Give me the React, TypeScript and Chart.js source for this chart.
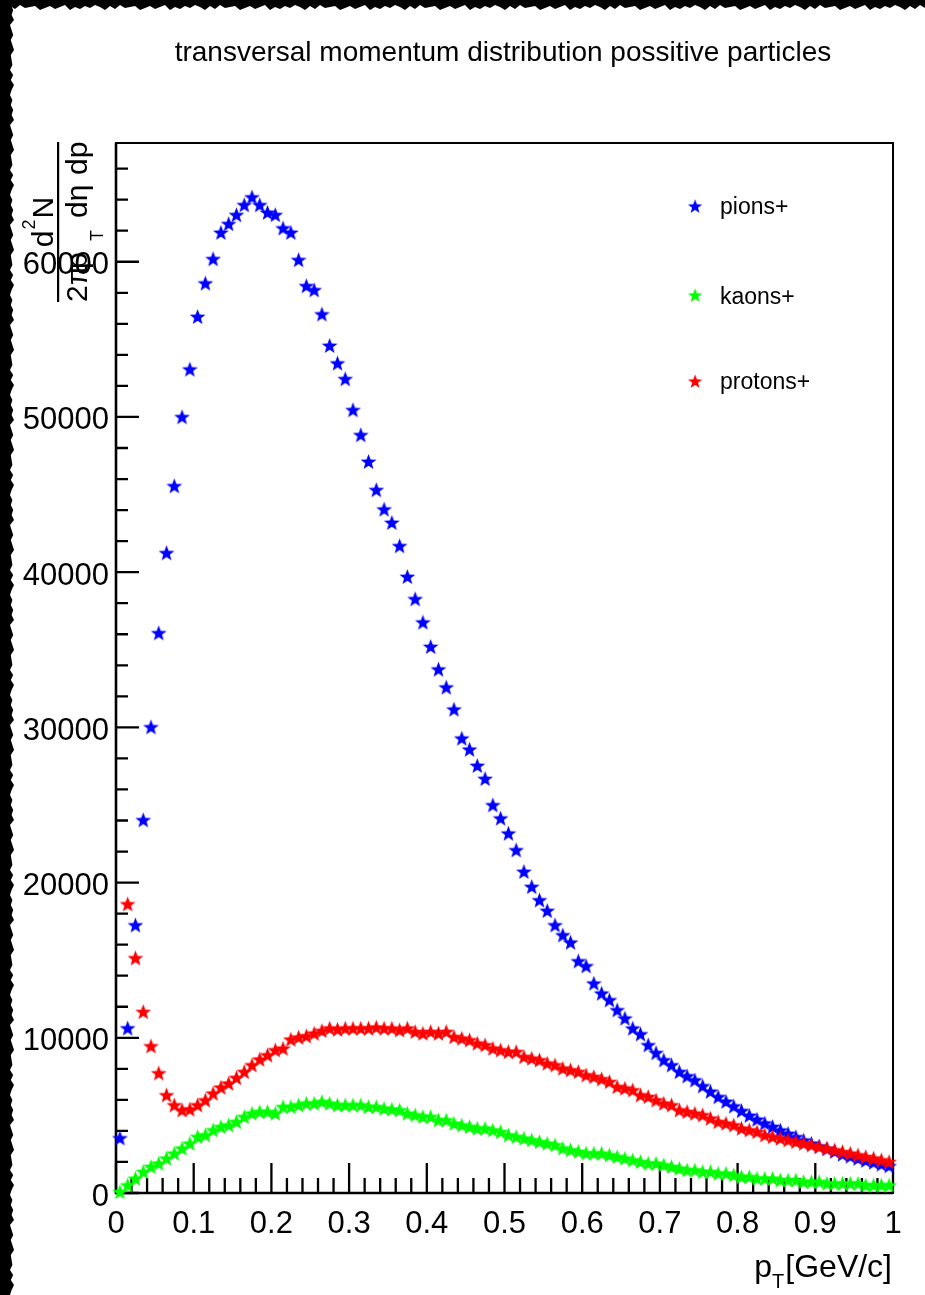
import React, { useEffect, useRef } from 'react';
import { Chart, registerables } from 'chart.js';

Chart.register(...registerables);

const FONT = '"Liberation Sans", Arial, Helvetica, sans-serif';

const TITLE = 'transversal momentum distribution possitive particles';
const SERIES_NAMES = ['pions+', 'kaons+', 'protons+'];
const SERIES_COLORS = ['#0000ff', '#00ff00', '#ff0000'];

const X_TICKS = [0, 0.1, 0.2, 0.3, 0.4, 0.5, 0.6, 0.7, 0.8, 0.9, 1];
const Y_TICKS = [0, 10000, 20000, 30000, 40000, 50000, 60000];

// bin centres of p_T [GeV/c]
const PT = [
  0.005, 0.015, 0.025, 0.035, 0.045, 0.055, 0.065, 0.075, 0.085, 0.095,
  0.105, 0.115, 0.125, 0.135, 0.145, 0.155, 0.165, 0.175, 0.185, 0.195,
  0.205, 0.215, 0.225, 0.235, 0.245, 0.255, 0.265, 0.275, 0.285, 0.295,
  0.305, 0.315, 0.325, 0.335, 0.345, 0.355, 0.365, 0.375, 0.385, 0.395,
  0.405, 0.415, 0.425, 0.435, 0.445, 0.455, 0.465, 0.475, 0.485, 0.495,
  0.505, 0.515, 0.525, 0.535, 0.545, 0.555, 0.565, 0.575, 0.585, 0.595,
  0.605, 0.615, 0.625, 0.635, 0.645, 0.655, 0.665, 0.675, 0.685, 0.695,
  0.705, 0.715, 0.725, 0.735, 0.745, 0.755, 0.765, 0.775, 0.785, 0.795,
  0.805, 0.815, 0.825, 0.835, 0.845, 0.855, 0.865, 0.875, 0.885, 0.895,
  0.905, 0.915, 0.925, 0.935, 0.945, 0.955, 0.965, 0.975, 0.985, 0.995,
];

const PIONS = [
  3545, 10630, 17270, 24040, 30030, 36090, 41250, 45560, 50010, 53080,
  56470, 58625, 60190, 61890, 62450, 63030, 63670, 64170, 63670, 63180,
  63030, 62170, 61890, 60130, 58450, 58190, 56630, 54605, 53470, 52460,
  50460, 48850, 47130, 45310, 44060, 43200, 41700, 39720, 38280, 36780,
  35210, 33750, 32590, 31170, 29300, 28590, 27540, 26700, 25005, 24150,
  23180, 22105, 20710, 19740, 18880, 18195, 17270, 16625, 16155, 14950,
  14630, 13515, 12870, 12440, 11795, 11260, 10615, 10245, 9540, 9040,
  8570, 8250, 7820, 7540, 7280, 6900, 6550, 6200, 5900, 5600,
  5300, 5000, 4750, 4500, 4280, 4050, 3830, 3620, 3400, 3200,
  3020, 2850, 2680, 2500, 2370, 2230, 2100, 1980, 1860, 1750,
];

const KAONS = [
  85, 515, 945, 1375, 1700, 1915, 2235, 2560, 2880, 3200,
  3630, 3740, 4060, 4275, 4380, 4595, 4920, 5135, 5240, 5240,
  5135, 5560, 5560, 5670, 5780, 5780, 5885, 5780, 5670, 5670,
  5670, 5670, 5560, 5560, 5450, 5400, 5350, 5135, 5030, 4920,
  4920, 4705, 4705, 4490, 4380, 4275, 4170, 4170, 4060, 3950,
  3740, 3630, 3530, 3420, 3310, 3200, 3100, 2890, 2780, 2680,
  2570, 2570, 2560, 2450, 2340, 2240, 2130, 2020, 1915, 1915,
  1810, 1700, 1590, 1485, 1485, 1375, 1375, 1270, 1270, 1160,
  1050, 1050, 945, 945, 945, 840, 840, 840, 730, 730,
  730, 625, 625, 625, 625, 625, 515, 515, 515, 515,
];

const PROTONS = [
  null, 18625, 15145, 11684, 9474, 7733, 6316, 5670, 5350, 5400,
  5670, 5990, 6425, 6810, 7070, 7430, 7820, 8250, 8620, 8890,
  9215, 9325, 9905, 10035, 10120, 10290, 10460, 10615, 10550, 10615,
  10615, 10615, 10615, 10680, 10615, 10615, 10505, 10615, 10400, 10290,
  10400, 10290, 10400, 10070, 9970, 9860, 9650, 9540, 9325, 9215,
  9105, 9105, 8785, 8680, 8570, 8360, 8250, 8035, 7930, 7820,
  7605, 7495, 7350, 7175, 6850, 6750, 6640, 6315, 6210, 5990,
  5780, 5670, 5350, 5240, 5135, 5030, 4815, 4595, 4490, 4380,
  4170, 4060, 3950, 3740, 3630, 3525, 3415, 3310, 3200, 3095,
  2985, 2880, 2770, 2660, 2560, 2450, 2340, 2240, 2130, 2020,
];

const JAG = [3, 0, 4, 1, 5, 2, 0, 3, 1, 4, 2, 5, 0, 2, 4, 1, 3, 5, 1, 2];

function makeStar(color: string): HTMLCanvasElement {
  const size = 19;
  const R = 8.3;
  const c = document.createElement('canvas');
  c.width = size;
  c.height = size;
  const g = c.getContext('2d')!;
  g.fillStyle = color;
  g.beginPath();
  for (let i = 0; i < 10; i++) {
    const r = i % 2 === 0 ? R : R * 0.42;
    const a = -Math.PI / 2 + (i * Math.PI) / 5;
    const px = size / 2 + r * Math.cos(a);
    const py = size / 2 + 0.7 + r * Math.sin(a);
    if (i === 0) g.moveTo(px, py);
    else g.lineTo(px, py);
  }
  g.closePath();
  g.fill();
  return c;
}

function toPoints(values: (number | null)[]) {
  const out: { x: number; y: number }[] = [];
  values.forEach((v, i) => {
    if (v !== null) out.push({ x: PT[i], y: v });
  });
  return out;
}

export default function App() {
  const ref = useRef<HTMLCanvasElement>(null);

  useEffect(() => {
    document.body.style.margin = '0';
    document.body.style.overflow = 'hidden';
    const canvas = ref.current!;
    const stars = SERIES_COLORS.map(makeStar);

    const rootPlugin = {
      id: 'rootStyle',
      beforeDraw(chart: any) {
        const ctx = chart.ctx as CanvasRenderingContext2D;
        const W = chart.width, H = chart.height;
        ctx.save();
        ctx.fillStyle = '#ffffff';
        ctx.fillRect(0, 0, W, H);
        ctx.fillStyle = '#000000';
        // top jagged band
        ctx.beginPath();
        ctx.moveTo(0, 0);
        ctx.lineTo(W, 0);
        for (let x = W, i = 0; x >= 0; x -= 5, i++) ctx.lineTo(x, 5 + JAG[i % JAG.length]);
        ctx.lineTo(0, 8);
        ctx.closePath();
        ctx.fill();
        // left jagged band
        ctx.beginPath();
        ctx.moveTo(0, 0);
        for (let y = 0, i = 0; y <= H; y += 5, i++) ctx.lineTo(10 + JAG[(i + 7) % JAG.length] * 0.8, y);
        ctx.lineTo(0, H);
        ctx.closePath();
        ctx.fill();
        ctx.restore();
      },
      beforeDatasetsDraw(chart: any) {
        const ctx = chart.ctx as CanvasRenderingContext2D;
        const { left, right, top, bottom } = chart.chartArea;
        const xs = chart.scales.x, ys = chart.scales.y;
        ctx.save();
        ctx.strokeStyle = '#000';
        ctx.lineWidth = 2;
        ctx.strokeRect(left, top, right - left, bottom - top);
        ctx.lineWidth = 2.6;
        ctx.beginPath();
        ctx.moveTo(left, top);
        ctx.lineTo(left, bottom);
        ctx.lineTo(right, bottom);
        ctx.stroke();
        ctx.lineWidth = 2.3;
        ctx.beginPath();
        for (let k = 0; k * 2000 <= ys.max; k++) {
          const py = ys.getPixelForValue(k * 2000);
          const len = k % 5 === 0 ? 23 : 12;
          ctx.moveTo(left, py);
          ctx.lineTo(left + len, py);
        }
        for (let k = 0; k <= 50; k++) {
          const px = xs.getPixelForValue(k * 0.02);
          const len = k % 5 === 0 ? 30 : 15;
          ctx.moveTo(px, bottom);
          ctx.lineTo(px, bottom - len);
        }
        ctx.stroke();
        ctx.restore();
      },
      afterDraw(chart: any) {
        const ctx = chart.ctx as CanvasRenderingContext2D;
        ctx.save();
        ctx.fillStyle = '#000';
        ctx.textBaseline = 'alphabetic';
        // title
        ctx.font = `28px ${FONT}`;
        ctx.textAlign = 'center';
        ctx.fillText(TITLE, 503, 61);
        ctx.textAlign = 'left';

        // x axis title: p_T[GeV/c]
        const bigX = `32px ${FONT}`, smallX = `20px ${FONT}`;
        ctx.font = bigX;
        const wp = ctx.measureText('p').width;
        const wr = ctx.measureText('[GeV/c]').width;
        ctx.font = smallX;
        const wt = ctx.measureText('T').width;
        const x0 = 891 - wr - wt - wp;
        ctx.font = bigX;
        ctx.fillText('p', x0, 1277);
        ctx.font = smallX;
        ctx.fillText('T', x0 + wp, 1288);
        ctx.font = bigX;
        ctx.fillText('[GeV/c]', x0 + wp + wt + 1, 1277);

        // y axis title (rotated fraction)
        ctx.save();
        ctx.translate(0, 222);
        ctx.rotate(-Math.PI / 2);
        const big = `30px ${FONT}`, sup = `18px ${FONT}`;
        ctx.font = big;
        const wd = ctx.measureText('d').width;
        const wN = ctx.measureText('N').width;
        ctx.font = sup;
        const w2 = ctx.measureText('2').width;
        let X = -(wd + w2 + wN + 2) / 2;
        ctx.font = big;
        ctx.fillText('d', X, 53);
        X += wd;
        ctx.font = sup;
        ctx.fillText('2', X + 1, 35);
        X += w2 + 2;
        ctx.font = big;
        ctx.fillText('N', X, 53);
        ctx.fillRect(-80, 57, 160, 2.2);
        ctx.font = big;
        ctx.fillText('2\u03c0', -80, 87);
        ctx.fillText('p', -47, 87);
        ctx.font = sup;
        ctx.fillText('T', -19, 103);
        ctx.font = big;
        ctx.fillText('d\u03b7', 4, 87);
        ctx.fillText('dp', 47, 87);
        ctx.restore();

        // legend
        const legY = [207, 296, 382];
        const legBase = [214, 304, 389];
        ctx.font = `23px ${FONT}`;
        SERIES_NAMES.forEach((name, i) => {
          const s = stars[i];
          ctx.drawImage(s, 696 - s.width / 2, legY[i] - s.height / 2, s.width * 0.9, s.height * 0.9);
          ctx.fillText(name, 720, legBase[i]);
        });
        ctx.restore();
      },
    };

    const tickFont = { family: FONT, size: 31 };
    const chart = new Chart(canvas, {
      type: 'scatter',
      data: {
        datasets: [
          { label: SERIES_NAMES[0], data: toPoints(PIONS), pointStyle: stars[0] as any, pointRadius: 8, order: 3, clip: false as any },
          { label: SERIES_NAMES[1], data: toPoints(KAONS), pointStyle: stars[1] as any, pointRadius: 8, order: 2, clip: false as any },
          { label: SERIES_NAMES[2], data: toPoints(PROTONS), pointStyle: stars[2] as any, pointRadius: 8, order: 1, clip: false as any },
        ],
      },
      options: {
        animation: false,
        responsive: false,
        devicePixelRatio: 1,
        events: [],
        layout: { padding: { left: 0, right: 32, top: 143, bottom: 0 } },
        plugins: {
          legend: { display: false },
          title: { display: false },
          tooltip: { enabled: false },
        },
        scales: {
          x: {
            type: 'linear',
            min: 0,
            max: 1,
            afterFit: (s: any) => { s.height = 102; },
            afterBuildTicks: (s: any) => { s.ticks = X_TICKS.map((v) => ({ value: v })); },
            grid: { display: false, drawTicks: false },
            border: { display: false },
            ticks: {
              font: tickFont,
              color: '#000',
              padding: 13,
              maxRotation: 0,
              autoSkip: false,
              callback: (v: any) => String(v),
            },
          },
          y: {
            type: 'linear',
            min: 0,
            max: 67650,
            afterFit: (s: any) => { s.width = 116; },
            afterBuildTicks: (s: any) => { s.ticks = Y_TICKS.map((v) => ({ value: v })); },
            grid: { display: false, drawTicks: false },
            border: { display: false },
            ticks: {
              font: tickFont,
              color: '#000',
              padding: 7,
              labelOffset: 4,
              autoSkip: false,
              callback: (v: any) => String(v),
            },
          },
        },
      },
      plugins: [rootPlugin],
    });
    return () => chart.destroy();
  }, []);

  return (
    <div style={{ width: 925, height: 1295, overflow: 'hidden' }}>
      <canvas ref={ref} width={925} height={1295} style={{ display: 'block', width: 925, height: 1295 }} />
    </div>
  );
}
